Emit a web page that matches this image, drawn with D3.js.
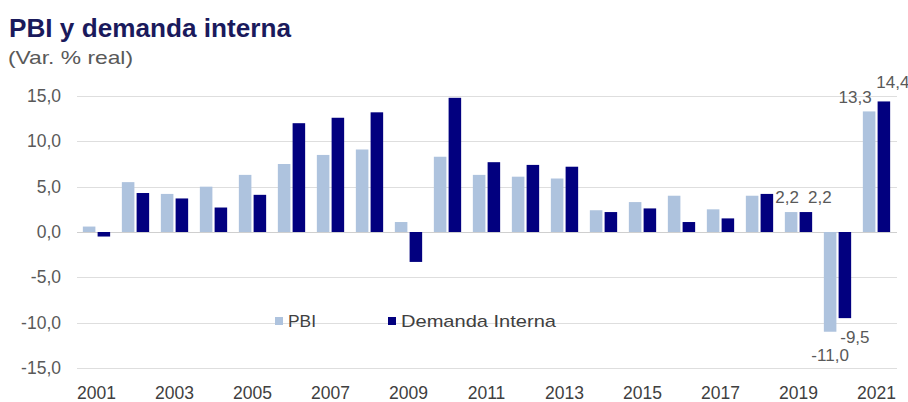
<!DOCTYPE html>
<html><head><meta charset="utf-8">
<script src="https://cdn.jsdelivr.net/npm/d3@7"></script>
<style>
body{margin:0;background:#fff;}
text{font-family:"Liberation Sans",Arial,sans-serif;}
</style></head>
<body><svg id="c" width="908" height="402"></svg>
<script>
const years = [2001,2002,2003,2004,2005,2006,2007,2008,2009,2010,2011,2012,2013,2014,2015,2016,2017,2018,2019,2020,2021];
const pbi = [0.6,5.5,4.2,5.0,6.3,7.5,8.5,9.1,1.1,8.3,6.3,6.1,5.9,2.4,3.3,4.0,2.5,4.0,2.2,-11.0,13.3];
const demanda = [-0.5,4.3,3.7,2.7,4.1,12.0,12.6,13.2,-3.3,14.8,7.7,7.4,7.2,2.2,2.6,1.1,1.5,4.2,2.2,-9.5,14.4];
const seriesNames = ["PBI","Demanda Interna"];
const yTicks = [-15,-10,-5,0,5,10,15];
const xTickYears = [2001,2003,2005,2007,2009,2011,2013,2015,2017,2019,2021];
const labelYears = [2019,2020,2021];

const colors = ["#aec3de","#02007f"];
const svg = d3.select("#c");

const y = d3.scaleLinear().domain([-15,15]).range([368,96]);
const x0 = d3.scaleBand().domain(years).range([77,896]).paddingInner(0.3).paddingOuter(0.15);
const x1 = d3.scaleBand().domain([0,1]).range([0,x0.bandwidth()]).paddingInner(0.15);
const loc = d3.formatLocale({decimal:",",thousands:".",grouping:[3],currency:["",""],minus:"-"});
const fmt = loc.format(".1f");

// title
svg.append("text").attr("x",9).attr("y",37).attr("font-size",25).attr("font-weight","bold")
  .attr("fill","#1a1a5c").attr("textLength",282).attr("lengthAdjust","spacingAndGlyphs").text("PBI y demanda interna");
svg.append("text").attr("x",8).attr("y",64).attr("font-size",19)
  .attr("fill","#595959").attr("textLength",125).attr("lengthAdjust","spacingAndGlyphs").text("(Var. % real)");

// grid
svg.append("g").selectAll("line").data(yTicks).join("line")
  .attr("x1",77).attr("x2",897).attr("y1",d=>Math.round(y(d))+0.5).attr("y2",d=>Math.round(y(d))+0.5)
  .attr("stroke",d=>d===0?"#cfcfcf":"#dedede").attr("stroke-width",1);

// y axis labels
const yAxis = d3.axisLeft(y).tickValues(yTicks).tickFormat(fmt).tickSize(0).tickPadding(0);
const gy = svg.append("g").attr("transform","translate(61,0)").call(yAxis);
gy.select(".domain").remove();
gy.selectAll("text").attr("font-size",17.5).attr("fill","#595959").attr("font-family","'Liberation Sans',Arial,sans-serif");

// x axis labels
const xAxis = d3.axisBottom(x0).tickValues(xTickYears).tickSize(0).tickPadding(0);
const gx = svg.append("g").attr("transform","translate(0,387)").call(xAxis);
gx.select(".domain").remove();
gx.selectAll("text").attr("font-size",17.5).attr("fill","#404040").attr("font-family","'Liberation Sans',Arial,sans-serif");

// bars
const vals = [pbi, demanda];
const groups = svg.append("g").selectAll("g").data(years).join("g")
  .attr("transform",d=>`translate(${x0(d)},0)`);
groups.selectAll("rect").data((d,i)=>[0,1].map(s=>({s, v:vals[s][i]}))).join("rect")
  .attr("x",d=>x1(d.s)).attr("width",x1.bandwidth())
  .attr("y",d=>y(Math.max(0,d.v))).attr("height",d=>Math.abs(y(d.v)-y(0)))
  .attr("fill",d=>colors[d.s]);

// data labels
const labelOffsets = {
  "2019-0":[-4,-9], "2019-1":[14,-9],
  "2020-0":[0,29], "2020-1":[10,25],
  "2021-0":[-14,-8], "2021-1":[9,-13]
};
labelYears.forEach(yr=>{
  const i = years.indexOf(yr);
  [0,1].forEach(s=>{
    const v = vals[s][i];
    const off = labelOffsets[yr+"-"+s];
    const cx = x0(yr)+x1(s)+x1.bandwidth()/2 + off[0];
    svg.append("text").attr("x",cx).attr("y",y(v)+off[1]).attr("text-anchor","middle")
      .attr("font-size",17).attr("fill","#595959").text(fmt(v));
  });
});

// legend
const leg = [{x:275, w:28},{x:388, w:155}];
seriesNames.forEach((n,s)=>{
  svg.append("rect").attr("x",leg[s].x).attr("y",317).attr("width",8).attr("height",8).attr("fill",colors[s]);
  svg.append("text").attr("x",leg[s].x+13).attr("y",327).attr("font-size",17).attr("fill","#404040")
    .attr("textLength",leg[s].w).attr("lengthAdjust","spacingAndGlyphs").text(n);
});
</script></body></html>
